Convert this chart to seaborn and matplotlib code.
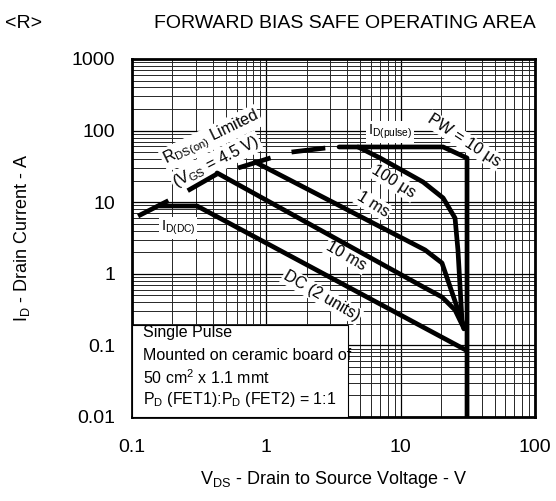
import matplotlib
matplotlib.use('Agg')
import matplotlib.pyplot as plt
import matplotlib.ticker as mticker
from matplotlib.patches import Rectangle
import seaborn as sns

# curves (V in volts, I in amps)
rds_v = [0.111, 0.185, 0.257, 0.43, 0.615, 1.07, 1.53, 2.74, 3.48]
rds_i = [6.4, 10.4, 14.3, 24.8, 30.0, 41.4, 50.0, 57.0, 59.0]

pw10us_v = [3.48, 20.7, 31.2, 31.2]
pw10us_i = [59.0, 59.0, 41.4, 0.01]

pw100us_v = [4.82, 7.03, 14.7, 20.7, 25.4, 26.7, 28.6, 29.6]
pw100us_i = [59.0, 41.4, 19.1, 11.45, 6.0, 2.15, 0.226, 0.17]

pw1ms_v = [0.824, 15.2, 20.3, 29.6]
pw1ms_i = [36.4, 2.15, 1.416, 0.178]

pw10ms_v = [0.43, 15.2, 20.3, 25.4, 29.6]
pw10ms_i = [25.6, 0.634, 0.474, 0.312, 0.172]

dc_v = [0.16, 0.305, 30.5]
dc_i = [8.85, 8.85, 0.0863]

x_ticks = [0.1, 1, 10, 100]
y_ticks = [0.01, 0.1, 1, 10, 100, 1000]

curves = {
    '10us': (pw10us_v, pw10us_i),
    '100us': (pw100us_v, pw100us_i),
    '1ms': (pw1ms_v, pw1ms_i),
    '10ms': (pw10ms_v, pw10ms_i),
    'dc': (dc_v, dc_i),
}

sns.set_theme(style='white')
plt.rcParams['font.family'] = ['Liberation Sans', 'DejaVu Sans']
plt.rcParams['mathtext.fontset'] = 'custom'
plt.rcParams['mathtext.rm'] = 'Liberation Sans'
plt.rcParams['mathtext.it'] = 'Liberation Sans:italic'
plt.rcParams['text.color'] = 'black'
plt.rcParams['axes.labelcolor'] = 'black'

fig = plt.figure(figsize=(5.56, 5.01), dpi=100)
ax = fig.add_axes([0.2374, 0.1677, 0.7248, 0.7146])
ax.set_xscale('log')
ax.set_yscale('log')
ax.set_xlim(0.1, 100)
ax.set_ylim(0.01, 1000)

# datasheet style log grid
ax.xaxis.set_minor_locator(mticker.LogLocator(base=10, subs=range(2, 10), numticks=20))
ax.yaxis.set_minor_locator(mticker.LogLocator(base=10, subs=range(2, 10), numticks=20))
ax.xaxis.set_minor_formatter(mticker.NullFormatter())
ax.yaxis.set_minor_formatter(mticker.NullFormatter())
ax.set_xticks(x_ticks)
ax.set_yticks(y_ticks)
ax.set_xticklabels([f'{t:g}' for t in x_ticks])
ax.set_yticklabels([f'{t:g}' for t in y_ticks])
ax.grid(which='major', color='black', lw=0.9)
ax.grid(which='minor', color='0.15', lw=0.7)
ax.set_axisbelow(True)
ax.tick_params(which='both', length=0, labelsize=14, colors='black')
ax.tick_params(axis='x', pad=16)
ax.tick_params(axis='y', pad=12)
for sp in ax.spines.values():
    sp.set_color('black')
    sp.set_linewidth(2)

lw = 3.4
sns.lineplot(x=rds_v, y=rds_i, sort=False, estimator=None, color='black',
             lw=lw, ax=ax, zorder=5)
ax.lines[-1].set_dashes((7.2, 4.6))
ax.lines[-1].set_dash_capstyle('butt')
for name, (v, i) in curves.items():
    sns.lineplot(x=v, y=i, sort=False, estimator=None, color='black',
                 lw=lw, ax=ax, zorder=5)

box = dict(facecolor='white', edgecolor='none', pad=1.0)
fs = 11.5
labels = [
    (0.196, 0.779, r'R$_{\mathrm{DS(on)}}$ Limited', 26),
    (0.208, 0.713, r'(V$_{\mathrm{GS}}$ = 4.5 V)', 27),
    (0.640, 0.796, r'I$_{\mathrm{D(pulse)}}$', 0),
    (0.823, 0.772, 'PW = 10 μs', -33),
    (0.648, 0.657, '100 μs', -32),
    (0.598, 0.593, '1 ms', -32),
    (0.531, 0.450, '10 ms', -30),
    (0.471, 0.338, 'DC (2 units)', -30),
    (0.114, 0.528, r'I$_{\mathrm{D(DC)}}$', 0),
]
for fx, fy, txt, rot in labels:
    ax.text(fx, fy, txt, rotation=rot, transform=ax.transAxes, ha='center', va='center',
            fontsize=fs if rot != 0 else 10.5, bbox=box, zorder=4)

# condition box
ax.add_patch(Rectangle((0.0, 0.0), 0.536, 0.257, transform=ax.transAxes,
                       facecolor='white', edgecolor='black', lw=0.8, zorder=3))
notes = ['Single Pulse', 'Mounted on ceramic board of',
         r'50 cm$^{2}$ x 1.1 mmt', r'P$_{\mathrm{D}}$ (FET1):P$_{\mathrm{D}}$ (FET2) = 1:1']
for k, line in enumerate(notes):
    ax.text(0.027, 0.235 - k * 0.062, line, transform=ax.transAxes,
            ha='left', va='center', fontsize=11.5, zorder=4)

fig.text(0.042, 1 - 24 / 501, '<R>', ha='center', va='center', fontsize=14)
fig.text(0.62, 1 - 24 / 501, 'FORWARD BIAS SAFE OPERATING AREA', ha='center', va='center', fontsize=14)
fig.text(0.6, 1 - 479 / 501, r'V$_{\mathrm{DS}}$ - Drain to Source Voltage - V',
         ha='center', va='center', fontsize=13)
fig.text(22 / 556, 1 - 238 / 501, r'I$_{\mathrm{D}}$ - Drain Current - A',
         ha='center', va='center', rotation=90, fontsize=13)

fig.savefig('out.png', dpi=100)
